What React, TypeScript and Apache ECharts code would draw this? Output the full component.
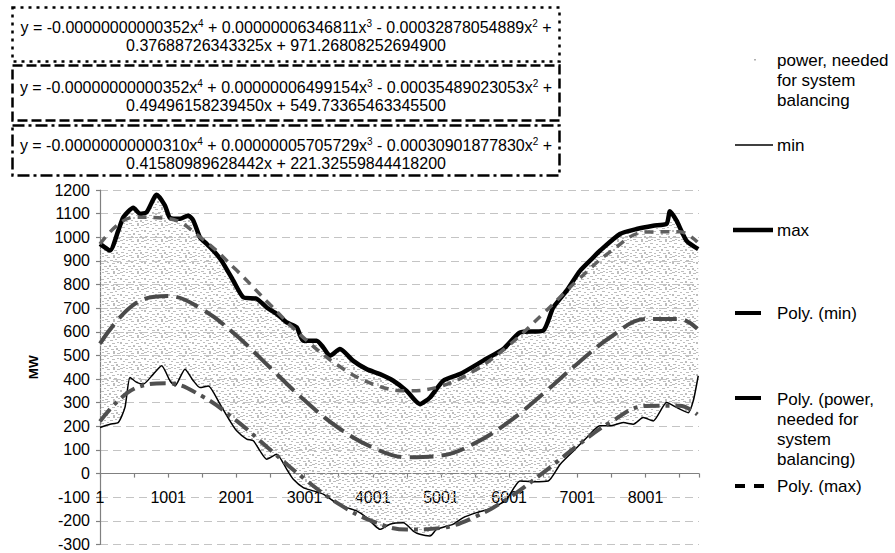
import React, { useEffect, useRef } from "react";
import * as echarts from "echarts";

// ---------- data ----------
const maxHours = [1, 147, 268, 342, 489, 586, 684, 831, 953, 1026, 1173, 1295, 1368, 1466, 1564, 1661, 1783, 1955, 2101, 2298, 2444, 2591, 2737, 2884, 2981, 3177, 3274, 3372, 3519, 3714, 3910, 4106, 4301, 4497, 4692, 4839, 5034, 5279, 5620, 5914, 6158, 6500, 6647, 6843, 7038, 7234, 7331, 7625, 7869, 8113, 8309, 8358, 8455, 8602, 8773];
const maxValues = [972, 944, 1028, 1085, 1125, 1099, 1106, 1180, 1134, 1082, 1078, 1092, 1071, 1000, 972, 944, 901, 816, 746, 740, 703, 676, 640, 619, 562, 562, 534, 499, 527, 477, 442, 421, 393, 350, 294, 322, 393, 421, 478, 527, 597, 605, 703, 774, 858, 915, 943, 1014, 1035, 1049, 1057, 1110, 1070, 985, 950];

const minHours = [1, 147, 268, 366, 440, 538, 635, 782, 904, 1026, 1100, 1246, 1368, 1466, 1588, 1759, 1906, 2004, 2151, 2248, 2346, 2444, 2591, 2737, 2835, 2981, 3127, 3274, 3421, 3617, 3763, 3910, 4008, 4106, 4252, 4448, 4594, 4692, 4839, 4936, 5181, 5327, 5523, 5767, 5963, 6158, 6353, 6573, 6749, 6944, 7139, 7331, 7478, 7674, 7820, 7966, 8113, 8309, 8455, 8626, 8700, 8773];
const minValues = [195, 209, 216, 280, 407, 386, 379, 421, 456, 393, 371, 442, 393, 364, 371, 294, 223, 181, 146, 139, 96, 61, 82, 19, -24, -59, -73, -87, -116, -144, -158, -186, -214, -236, -214, -208, -243, -257, -264, -236, -214, -186, -165, -144, -109, -31, -34, -31, 40, 96, 153, 202, 202, 216, 209, 237, 223, 301, 280, 258, 308, 414];

const trendHours = [0, 500, 1000, 1500, 2000, 2500, 3000, 3500, 4000, 4500, 5000, 5500, 6000, 6500, 7000, 7500, 8000, 8500, 8760];
const trendMaxValues = [971, 1085, 1079, 993, 861, 713, 571, 456, 379, 350, 370, 437, 544, 677, 817, 942, 1022, 1023, 980];
const trendPowerValues = [550, 716, 751, 695, 584, 447, 310, 193, 110, 69, 76, 129, 220, 338, 465, 580, 654, 654, 613];
const trendMinValues = [221, 359, 382, 327, 224, 100, -23, -128, -202, -237, -230, -183, -102, 4, 118, 220, 286, 287, 250];

const seriesNames = [
  "power, needed for system balancing",
  "min",
  "max",
  "Poly. (min)",
  "Poly. (power, needed for system balancing)",
  "Poly. (max)",
];

const legendLabels = [
  "power, needed\nfor system\nbalancing",
  "min",
  "max",
  "Poly. (min)",
  "Poly. (power,\nneeded for\nsystem\nbalancing)",
  "Poly. (max)",
];

const equationLine1 = [
  "y = -0.00000000000352x{s|4} + 0.00000006346811x{s|3} - 0.00032878054889x{s|2} +",
  "y = -0.00000000000352x{s|4} + 0.00000006499154x{s|3} - 0.00035489023053x{s|2} +",
  "y = -0.00000000000310x{s|4} + 0.00000005705729x{s|3} - 0.00030901877830x{s|2} +",
];
const equationLine2 = [
  "0.37688726343325x + 971.26808252694900",
  "0.49496158239450x + 549.73365463345500",
  "0.41580989628442x + 221.32559844418200",
];

// ---------- styles ----------
const FONT = "'Liberation Sans', Arial, Helvetica, sans-serif";

// small grey speckle tile used to texture the data cloud
const cloudTile = [
  [0, 0, 3, 1], [6, 0, 2, 1], [11, 1, 3, 1], [17, 0, 2, 2], [21, 1, 3, 1],
  [2, 3, 3, 1], [8, 4, 2, 1], [14, 4, 3, 1], [19, 3, 2, 1],
  [0, 6, 2, 2], [5, 7, 3, 1], [11, 6, 2, 1], [16, 7, 3, 1], [21, 6, 2, 1],
  [3, 9, 2, 1], [8, 10, 3, 1], [13, 9, 2, 2], [18, 10, 3, 1],
  [1, 12, 3, 1], [6, 13, 2, 1], [11, 12, 2, 1], [15, 13, 3, 1], [20, 12, 2, 2],
  [3, 15, 2, 1], [9, 15, 3, 1], [17, 15, 2, 1], [22, 14, 2, 1],
];

function makeCloudFill(): any {
  try {
    const c = document.createElement("canvas");
    c.width = 24;
    c.height = 16;
    const ctx = c.getContext("2d");
    if (!ctx) return "#e6e6e6";
    ctx.fillStyle = "#bdbdbd";
    for (const [x, y, w, h] of cloudTile) ctx.fillRect(x, y, w, h);
    return { image: c.toDataURL(), repeat: "repeat", imageWidth: 24, imageHeight: 16 };
  } catch (e) {
    return "#e6e6e6";
  }
}

function pairs(xs: number[], ys: number[]) {
  return xs.map((x, i) => [x, ys[i]]);
}

export default function App() {
  const ref = useRef<HTMLDivElement>(null);

  useEffect(() => {
    if (!ref.current) return;
    const chart = echarts.init(ref.current, null, { renderer: "svg" });
    const cloudFill = makeCloudFill();

    const gridTop = 190;
    const gridHeight = 354.5;
    const yMin = -300;
    const yMax = 1200;
    const zeroOffset = -gridHeight * (0 - yMin) / (yMax - yMin);

    const boxes = [
      { y: 7.5, h: 54, dash: [3, 5] },
      { y: 65.5, h: 55, dash: [10, 4] },
      { y: 125.5, h: 50, dash: [12, 4, 3, 4] },
    ];
    const lineY1 = [27, 87.5, 145.5];
    const lineY2 = [45, 105.5, 163];

    const graphic: any[] = [];
    boxes.forEach((b, i) => {
      graphic.push({
        type: "rect",
        shape: { x: 12.5, y: b.y, width: 547, height: b.h },
        style: { fill: "#ffffff", stroke: "#000000", lineWidth: 2.5, lineDash: b.dash },
        z: 10,
      });
      graphic.push({
        type: "text",
        x: 286,
        y: lineY1[i],
        style: {
          text: equationLine1[i],
          align: "center",
          verticalAlign: "middle",
          fontFamily: FONT,
          fontSize: 16,
          lineHeight: 18,
          fill: "#000",
          rich: { s: { fontSize: 10, fontFamily: FONT, verticalAlign: "top", lineHeight: 10, fill: "#000" } },
        },
        z: 11,
      });
      graphic.push({
        type: "text",
        x: 286,
        y: lineY2[i],
        style: {
          text: equationLine2[i],
          align: "center",
          verticalAlign: "middle",
          fontFamily: FONT,
          fontSize: 16,
          fill: "#000",
        },
        z: 11,
      });
    });

    // legend
    const legendTop = [50, 135, 220, 303, 389, 476];
    legendLabels.forEach((t, i) => {
      graphic.push({
        type: "text",
        x: 777,
        y: legendTop[i],
        style: { text: t, fontFamily: FONT, fontSize: 17, lineHeight: 20, fill: "#000", verticalAlign: "top", align: "left" },
        z: 11,
      });
    });
    graphic.push({ type: "rect", shape: { x: 754, y: 59, width: 2, height: 1.5 }, style: { fill: "#b0b0b0" }, z: 11 });
    graphic.push({ type: "line", shape: { x1: 735, y1: 145, x2: 773, y2: 145 }, style: { stroke: "#000", lineWidth: 1.5 }, z: 11 });
    graphic.push({ type: "line", shape: { x1: 733, y1: 230, x2: 773, y2: 230 }, style: { stroke: "#000", lineWidth: 4.5 }, z: 11 });
    graphic.push({ type: "line", shape: { x1: 735, y1: 313, x2: 761, y2: 313 }, style: { stroke: "#000", lineWidth: 4 }, z: 11 });
    graphic.push({ type: "line", shape: { x1: 735, y1: 398, x2: 761, y2: 398 }, style: { stroke: "#000", lineWidth: 4 }, z: 11 });
    graphic.push({ type: "line", shape: { x1: 735, y1: 486, x2: 745, y2: 486 }, style: { stroke: "#000", lineWidth: 4 }, z: 11 });
    graphic.push({ type: "line", shape: { x1: 754, y1: 486, x2: 764, y2: 486 }, style: { stroke: "#000", lineWidth: 4 }, z: 11 });

    const option: any = {
      animation: false,
      backgroundColor: "#ffffff",
      textStyle: { fontFamily: FONT },
      grid: { left: 100, top: gridTop, width: 599, height: gridHeight, containLabel: false },
      xAxis: {
        type: "value",
        min: 0,
        max: 8784,
        interval: 500,
        position: "bottom",
        offset: zeroOffset,
        axisLine: { show: true, onZero: false, lineStyle: { color: "#808080", width: 1.2 } },
        axisTick: { show: true, length: 4, lineStyle: { color: "#808080", width: 1.2 } },
        axisLabel: {
          formatter: (v: number) => (v % 1000 === 0 ? String(v + 1) : ""),
          margin: 16,
          fontSize: 16,
          fontFamily: FONT,
          color: "#000",
        },
        splitLine: { show: false },
      },
      yAxis: {
        type: "value",
        min: yMin,
        max: yMax,
        interval: 100,
        name: "MW",
        nameLocation: "middle",
        nameGap: 60,
        nameTextStyle: { fontWeight: "bold", fontSize: 13.5, fontFamily: FONT, color: "#000" },
        axisLine: { show: true, lineStyle: { color: "#808080", width: 1.2 } },
        axisTick: { show: true, length: 4, lineStyle: { color: "#808080", width: 1.2 } },
        axisLabel: { margin: 10, fontSize: 16, fontFamily: FONT, color: "#000", formatter: (v: number) => String(v) },
        splitLine: { show: true, lineStyle: { color: "#c4c4c4", width: 1, type: [8, 5] } },
      },
      graphic,
      series: [
        {
          type: "custom",
          name: seriesNames[0],
          silent: true,
          z: 1,
          data: [[0, 0]],
          renderItem: (_params: any, api: any) => {
            const pts: number[][] = [];
            for (let i = 0; i < maxHours.length; i++) pts.push(api.coord([maxHours[i], maxValues[i]]));
            for (let i = minHours.length - 1; i >= 0; i--) pts.push(api.coord([minHours[i], minValues[i]]));
            return {
              type: "polygon",
              shape: { points: pts, smooth: 0 },
              style: { fill: cloudFill, stroke: null },
            };
          },
        },
        {
          type: "line",
          name: seriesNames[1],
          data: pairs(minHours, minValues),
          showSymbol: false,
          smooth: 0.2,
          lineStyle: { color: "#000", width: 1.5 },
          z: 3,
        },
        {
          type: "line",
          name: seriesNames[2],
          data: pairs(maxHours, maxValues),
          showSymbol: false,
          smooth: 0.2,
          lineStyle: { color: "#000", width: 4.5 },
          z: 3,
        },
        {
          type: "line",
          name: seriesNames[3],
          data: pairs(trendHours, trendMinValues),
          showSymbol: false,
          smooth: 0.4,
          lineStyle: { color: "#505050", width: 4, type: [16, 6, 4, 6] },
          z: 4,
        },
        {
          type: "line",
          name: seriesNames[4],
          data: pairs(trendHours, trendPowerValues),
          showSymbol: false,
          smooth: 0.4,
          lineStyle: { color: "#4a4a4a", width: 4, type: [24, 8] },
          z: 4,
        },
        {
          type: "line",
          name: seriesNames[5],
          data: pairs(trendHours, trendMaxValues),
          showSymbol: false,
          smooth: 0.4,
          lineStyle: { color: "#606060", width: 3.5, type: [9, 7] },
          z: 4,
        },
      ],
    };
    chart.setOption(option);
    return () => chart.dispose();
  }, []);

  return (
    <div
      ref={ref}
      style={{ position: "fixed", left: 0, top: 0, width: 895, height: 553, background: "#fff" }}
    />
  );
}
